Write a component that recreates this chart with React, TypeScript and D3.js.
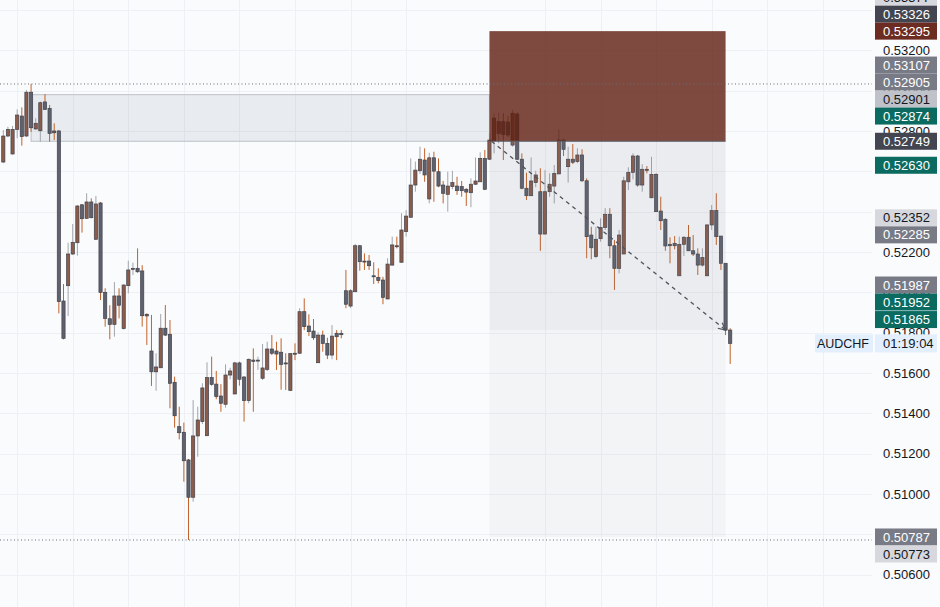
import React from "react";
import * as d3 from "d3";

// ---- data (AUDCHF candles) ----
const opens = [0.52646,0.52775,0.52686,0.52808,0.52874,0.52775,0.52992,0.52810,0.52801,0.52944,0.52912,0.52800,0.52800,0.51957,0.52033,0.52190,0.52246,0.52434,0.52367,0.52448,0.52263,0.52443,0.52000,0.51869,0.51841,0.51982,0.51820,0.52033,0.52114,0.52119,0.52106,0.51891,0.51709,0.51606,0.51626,0.51822,0.51792,0.51554,0.51334,0.51306,0.51169,0.50984,0.51288,0.51359,0.51289,0.51577,0.51545,0.51486,0.51445,0.51590,0.51496,0.51650,0.51580,0.51463,0.51664,0.51661,0.51574,0.51618,0.51719,0.51709,0.51703,0.51650,0.51514,0.51698,0.51698,0.51904,0.51833,0.51808,0.51651,0.51788,0.51747,0.51689,0.51797,0.51797,0.52008,0.51932,0.52003,0.52231,0.52155,0.52155,0.52082,0.52074,0.52061,0.51967,0.52135,0.52231,0.52149,0.52301,0.52372,0.52532,0.52603,0.52656,0.52463,0.52667,0.52598,0.52532,0.52486,0.52524,0.52527,0.52524,0.52511,0.52494,0.52536,0.52548,0.52664,0.52660,0.52752,0.52788,0.52846,0.52844,0.52730,0.52884,0.52660,0.52516,0.52479,0.52544,0.52499,0.52289,0.52499,0.52527,0.52587,0.52755,0.52623,0.52660,0.52648,0.52681,0.52553,0.52284,0.52177,0.52266,0.52322,0.52387,0.52231,0.52119,0.52190,0.52548,0.52595,0.52676,0.52532,0.52610,0.52469,0.52585,0.52403,0.52362,0.52238,0.52243,0.52082,0.52238,0.52273,0.52206,0.52190,0.52135,0.52082,0.52334,0.52405,0.52279,0.52144,0.51813];
const highs = [0.52805,0.52821,0.52825,0.52907,0.52917,0.53003,0.53033,0.52863,0.52946,0.52983,0.52929,0.52838,0.52805,0.52041,0.52246,0.52339,0.52433,0.52438,0.52491,0.52466,0.52478,0.52448,0.52020,0.51936,0.52051,0.52020,0.52041,0.52157,0.52147,0.52218,0.52135,0.51896,0.51888,0.51698,0.51893,0.51937,0.51863,0.51582,0.51433,0.51354,0.51174,0.51466,0.51433,0.51549,0.51653,0.51681,0.51610,0.51545,0.51643,0.51626,0.51656,0.51656,0.51585,0.51672,0.51722,0.51681,0.51744,0.51755,0.51788,0.51755,0.51772,0.51698,0.51699,0.51747,0.51921,0.51970,0.51891,0.51868,0.51802,0.51810,0.51775,0.51838,0.51813,0.51813,0.52111,0.52016,0.52240,0.52235,0.52193,0.52185,0.52149,0.52119,0.52077,0.52169,0.52276,0.52276,0.52392,0.52408,0.52664,0.52648,0.52722,0.52714,0.52692,0.52697,0.52664,0.52552,0.52598,0.52603,0.52573,0.52552,0.52516,0.52565,0.52669,0.52694,0.52706,0.52788,0.52888,0.52891,0.52888,0.52874,0.52907,0.52891,0.52689,0.52593,0.52669,0.52603,0.52615,0.52606,0.52590,0.52631,0.52808,0.52759,0.52722,0.52735,0.52714,0.52709,0.52565,0.52325,0.52325,0.52367,0.52417,0.52417,0.52259,0.52309,0.52573,0.52620,0.52689,0.52681,0.52635,0.52626,0.52672,0.52590,0.52474,0.52367,0.52273,0.52279,0.52276,0.52279,0.52334,0.52284,0.52218,0.52218,0.52339,0.52433,0.52491,0.52279,0.52144,0.51822];
const lows = [0.52641,0.52769,0.52683,0.52764,0.52727,0.52770,0.52796,0.52805,0.52747,0.52904,0.52747,0.52755,0.51896,0.51767,0.51883,0.52185,0.52182,0.52296,0.52364,0.52367,0.52259,0.51962,0.51830,0.51767,0.51780,0.51871,0.51816,0.51995,0.52086,0.52097,0.51830,0.51739,0.51536,0.51512,0.51625,0.51783,0.51425,0.51329,0.51271,0.51061,0.50772,0.50962,0.51185,0.51347,0.51288,0.51537,0.51470,0.51408,0.51428,0.51569,0.51496,0.51537,0.51359,0.51450,0.51408,0.51615,0.51565,0.51610,0.51689,0.51615,0.51517,0.51516,0.51513,0.51664,0.51694,0.51813,0.51783,0.51764,0.51650,0.51706,0.51669,0.51668,0.51664,0.51772,0.51921,0.51922,0.52002,0.52107,0.52111,0.52111,0.52041,0.52045,0.51941,0.51967,0.52133,0.52218,0.52149,0.52276,0.52372,0.52499,0.52587,0.52548,0.52441,0.52449,0.52521,0.52441,0.52400,0.52511,0.52483,0.52474,0.52428,0.52422,0.52532,0.52548,0.52507,0.52656,0.52689,0.52739,0.52656,0.52770,0.52722,0.52656,0.52511,0.52458,0.52478,0.52521,0.52206,0.52287,0.52474,0.52441,0.52587,0.52676,0.52544,0.52636,0.52640,0.52548,0.52169,0.52164,0.52169,0.52251,0.52309,0.52169,0.52012,0.52094,0.52190,0.52507,0.52560,0.52524,0.52499,0.52590,0.52466,0.52398,0.52309,0.52206,0.52144,0.52213,0.52082,0.52180,0.52205,0.52180,0.52086,0.52127,0.52082,0.52309,0.52235,0.52111,0.51788,0.51645];
const closes = [0.52775,0.52808,0.52808,0.52879,0.52772,0.52992,0.52816,0.52838,0.52940,0.52907,0.52788,0.52791,0.51954,0.51772,0.52190,0.52248,0.52428,0.52365,0.52448,0.52370,0.52438,0.52000,0.51871,0.51841,0.51982,0.51936,0.52036,0.52111,0.52119,0.52102,0.51884,0.51883,0.51606,0.51630,0.51822,0.51788,0.51549,0.51388,0.51304,0.51165,0.50984,0.51288,0.51367,0.51526,0.51577,0.51544,0.51483,0.51450,0.51590,0.51610,0.51650,0.51569,0.51463,0.51668,0.51658,0.51664,0.51625,0.51719,0.51698,0.51694,0.51643,0.51645,0.51696,0.51694,0.51904,0.51830,0.51805,0.51775,0.51788,0.51747,0.51689,0.51783,0.51780,0.51790,0.51941,0.52008,0.52231,0.52152,0.52150,0.52132,0.52077,0.52058,0.51975,0.52140,0.52235,0.52226,0.52309,0.52378,0.52532,0.52606,0.52660,0.52582,0.52667,0.52601,0.52527,0.52491,0.52527,0.52544,0.52504,0.52504,0.52497,0.52536,0.52552,0.52664,0.52511,0.52755,0.52864,0.52846,0.52783,0.52780,0.52888,0.52660,0.52516,0.52479,0.52552,0.52582,0.52289,0.52499,0.52536,0.52590,0.52755,0.52709,0.52660,0.52645,0.52681,0.52553,0.52276,0.52221,0.52263,0.52322,0.52387,0.52231,0.52119,0.52284,0.52553,0.52595,0.52676,0.52532,0.52610,0.52605,0.52585,0.52400,0.52355,0.52230,0.52231,0.52231,0.52238,0.52273,0.52206,0.52190,0.52135,0.52172,0.52334,0.52405,0.52276,0.52144,0.51813,0.51747];

const tickValues = [0.506,0.508,0.510,0.512,0.514,0.516,0.518,0.520,0.522,0.524,0.526,0.528,0.530,0.532,0.534];
const gridIndices = [3,15,27,39,51,63,75,87,117,129,141,153,165,177];

const labelValues = [0.53377,0.53326,0.53295,0.53107,0.52905,0.52901,0.52874,0.52749,0.52630,0.52352,0.52285,0.51987,0.51952,0.51865,0.50787,0.50773];
const labelKinds = ["light","slate","stop","gray","gray","silver","teal","slate","teal","light","gray","gray","teal","teal","gray","light"];

// position tool (short) and zone
const entryPrice = 0.52749;
const stopPrice = 0.53295;
const targetPrice = 0.50787;
const positionStart = 105;
const positionEnd = 156;
const zoneTop = 0.5298;
const zoneBottom = 0.52749;
const zoneStart = 6;
const symbolName = "AUDCHF";
const countdown = "01:19:04";

const kindStyle: Record<string, { bg: string; fg: string }> = {
  light: { bg: "#d6d8dd", fg: "#131722" },
  silver: { bg: "#bfc2c9", fg: "#131722" },
  slate: { bg: "#434651", fg: "#ffffff" },
  gray: { bg: "#787b86", fg: "#ffffff" },
  teal: { bg: "#0b6b61", fg: "#ffffff" },
  stop: { bg: "#6d2c22", fg: "#ffffff" },
};

export default function App() {
  const W = 940, H = 607, paneW = 872;
  const x = d3.scaleLinear().domain([0, 157]).range([3.3, 730.2]);
  const y = d3.scaleLinear().domain([0.506, 0.532]).range([574.7, 50.3]);
  const font = "'Liberation Sans', Arial, sans-serif";

  const maxHigh = d3.max(highs) as number;
  const minLow = d3.min(lows) as number;

  // label collision handling (push away from pane center)
  const LH = 17;
  const center = H / 2;
  const items = labelValues.map((v, i) => ({ v, kind: labelKinds[i], y: y(v) }));
  const top = items.filter((d) => d.y <= center).sort((a, b) => b.y - a.y);
  for (let j = 1; j < top.length; j++) {
    if (top[j].y > top[j - 1].y - LH) top[j].y = top[j - 1].y - LH;
  }
  const bottom = items.filter((d) => d.y > center).sort((a, b) => a.y - b.y);
  for (let j = 1; j < bottom.length; j++) {
    if (bottom[j].y < bottom[j - 1].y + LH) bottom[j].y = bottom[j - 1].y + LH;
  }

  // tick labels fully hidden behind a price label are not drawn
  const visibleTicks = tickValues.filter((t) => !items.some((d) => Math.abs(d.y - y(t)) < 6.5));

  const px0 = x(positionStart), px1 = x(positionEnd);
  const curPrice = closes[positionEnd];
  const ax0 = px0 + 2, ay0 = y(entryPrice);
  const ax1 = px1, ay1 = y(curPrice);
  const ang = Math.atan2(ay1 - ay0, ax1 - ax0);
  const ah = 8;
  const arrowPts = [
    [ax1 - ah * Math.cos(ang - 0.45), ay1 - ah * Math.sin(ang - 0.45)],
    [ax1, ay1],
    [ax1 - ah * Math.cos(ang + 0.45), ay1 - ah * Math.sin(ang + 0.45)],
  ].map((p) => p.join(",")).join(" ");

  const lastClose = closes[closes.length - 1];
  const bw = 3.2;

  return (
    <svg width={W} height={H} style={{ position: "fixed", left: 0, top: 0, background: "#f9fbfd" }} fontFamily={font}>
      <rect x={0} y={0} width={W} height={H} fill="#f9fbfd" />
      {/* grid */}
      {tickValues.map((t) => (
        <line key={"h" + t} x1={0} x2={paneW} y1={Math.round(y(t)) + 0.5} y2={Math.round(y(t)) + 0.5} stroke="#edf0f5" strokeWidth={1} />
      ))}
      {gridIndices.map((g) => (
        <line key={"v" + g} x1={Math.round(x(g)) + 0.5} x2={Math.round(x(g)) + 0.5} y1={0} y2={H} stroke="#edf0f5" strokeWidth={1} />
      ))}

      {/* left zone */}
      <rect x={x(zoneStart)} y={y(zoneTop)} width={px0 - x(zoneStart)} height={y(zoneBottom) - y(zoneTop)}
        fill="rgba(120,130,150,0.13)" stroke="#bcc0c8" strokeWidth={1} />

      {/* candles */}
      {opens.map((o, i) => {
        const c = closes[i];
        const up = c >= o;
        const cx = x(i);
        const yt = y(Math.max(o, c));
        const yb = y(Math.min(o, c));
        return (
          <g key={i}>
            <line x1={cx} x2={cx} y1={y(highs[i])} y2={y(lows[i])} stroke={up ? "#a2a5ad" : "#c2622b"} strokeWidth={1} />
            <rect x={cx - bw / 2} y={yt} width={bw} height={Math.max(1, yb - yt)}
              fill={up ? "#8d5b49" : "#5f626c"} stroke="#3f424c" strokeWidth={0.7} />
          </g>
        );
      })}

      {/* position tool */}
      <rect x={px0} y={y(stopPrice)} width={px1 - px0} height={y(entryPrice) - y(stopPrice)} fill="rgba(95,30,15,0.8)" />
      <rect x={px0} y={y(entryPrice)} width={px1 - px0} height={y(curPrice) - y(entryPrice)} fill="rgba(120,120,125,0.11)" />
      <rect x={px0} y={y(curPrice)} width={px1 - px0} height={y(targetPrice) - y(curPrice)} fill="rgba(120,120,125,0.055)" />
      <line x1={px0} x2={px1} y1={y(entryPrice)} y2={y(entryPrice)} stroke="#5d606b" strokeWidth={1} />
      <line x1={ax0} y1={ay0} x2={ax1} y2={ay1} stroke="#50535c" strokeWidth={1.3} strokeDasharray="4 4" />
      <polyline points={arrowPts} fill="none" stroke="#50535c" strokeWidth={1.2} />

      {/* high / low dotted lines */}
      <line x1={0} x2={paneW} y1={y(maxHigh)} y2={y(maxHigh)} stroke="#6a6d78" strokeWidth={1} strokeDasharray="1 2.5" />
      <line x1={0} x2={paneW} y1={y(minLow)} y2={y(minLow)} stroke="#6a6d78" strokeWidth={1} strokeDasharray="1 2.5" />

      {/* axis tick labels */}
      {visibleTicks.map((t) => (
        <text key={"t" + t} x={883} y={y(t)} dy="0.35em" fontSize={13} fill="#131722">{t.toFixed(5)}</text>
      ))}

      {/* price labels */}
      {items.map((d, i) => {
        const s = kindStyle[d.kind];
        return (
          <g key={"l" + i}>
            <rect x={875} y={d.y - LH / 2} width={62} height={LH} fill={s.bg} />
            <text x={883} y={d.y} dy="0.35em" fontSize={13} fill={s.fg}>{d.v.toFixed(5)}</text>
          </g>
        );
      })}

      {/* symbol + countdown */}
      <rect x={815} y={y(lastClose) - 9} width={58} height={18} fill="#e3effd" />
      <text x={869} y={y(lastClose)} dy="0.35em" fontSize={12.5} textAnchor="end" fill="#131722">{symbolName}</text>
      <rect x={875} y={y(lastClose) - 9} width={62} height={18} fill="#e3effd" />
      <text x={883} y={y(lastClose)} dy="0.35em" fontSize={13} fill="#131722">{countdown}</text>
    </svg>
  );
}
